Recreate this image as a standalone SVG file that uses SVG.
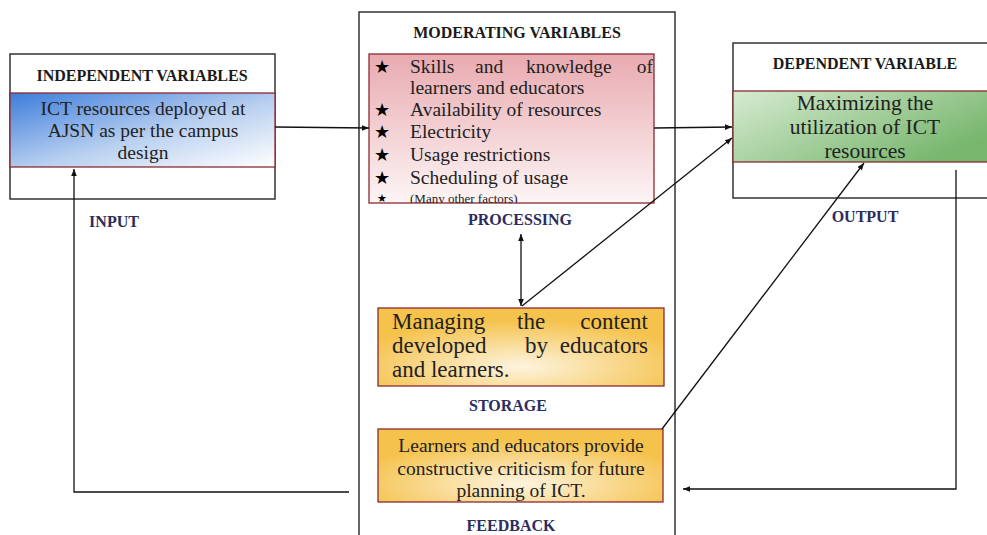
<svg xmlns="http://www.w3.org/2000/svg" width="987" height="535" viewBox="0 0 987 535">
<style>
.outer{fill:#fff;stroke:#333;stroke-width:1.5}
.band{stroke:#8b2a33;stroke-width:1.3}
.hdr{font-family:"Liberation Serif",serif;font-weight:bold;font-size:16px;fill:#1a1a1a;text-anchor:middle}
.lbl{font-family:"Liberation Serif",serif;font-weight:bold;font-size:16px;fill:#2c2c5e;text-anchor:middle}
.t{font-family:"Liberation Serif",serif;fill:#222}
.star{font-family:"DejaVu Sans",sans-serif;fill:#000;text-anchor:middle}
.conn{fill:none;stroke:#111;stroke-width:1.3}
</style>
<defs>
<linearGradient id="gBlue" x1="0" y1="0" x2="1" y2="1">
<stop offset="0" stop-color="#3d7ddb"/>
<stop offset="0.55" stop-color="#b9d0f0"/>
<stop offset="1" stop-color="#ffffff"/>
</linearGradient>
<linearGradient id="gPink" x1="0" y1="0" x2="0" y2="1">
<stop offset="0" stop-color="#e8aab0"/>
<stop offset="1" stop-color="#fdf5f5"/>
</linearGradient>
<linearGradient id="gGreen" x1="0" y1="0" x2="1" y2="0.6">
<stop offset="0" stop-color="#d6ebd1"/>
<stop offset="1" stop-color="#78b66e"/>
</linearGradient>
<radialGradient id="gOrange" cx="0.5" cy="0.75" r="0.6">
<stop offset="0" stop-color="#fdf4df"/>
<stop offset="1" stop-color="#f5c24c"/>
</radialGradient>
<clipPath id="pinkClip"><rect x="369" y="54" width="285" height="149"/></clipPath>
<marker id="arr" viewBox="0 0 10 10" refX="10" refY="5" markerWidth="7" markerHeight="7" markerUnits="userSpaceOnUse" orient="auto-start-reverse">
<path d="M0,1 L10,5 L0,9 z" fill="#111"/>
</marker>
</defs>

<g id="moderating">
<path class="outer" d="M359,536 L359,12 L675,12 L675,536"/>
<text class="hdr" x="517" y="38">MODERATING VARIABLES</text>
</g>

<g id="independent">
<rect class="outer" x="10" y="54" width="265" height="145"/>
<text class="hdr" x="142" y="81">INDEPENDENT VARIABLES</text>
<rect class="band" x="10" y="93" width="265" height="74" fill="url(#gBlue)"/>
<text class="t" font-size="19.5" text-anchor="middle"><tspan x="143" y="115">ICT resources deployed at</tspan><tspan x="143" y="137">AJSN as per the campus</tspan><tspan x="143" y="159">design</tspan></text>
<text class="lbl" x="114" y="227">INPUT</text>
</g>

<g id="processing">
<rect class="band" x="369" y="54" width="285" height="149" fill="url(#gPink)"/>
<g class="star" font-size="18">
<text x="382" y="73">★</text>
<text x="382" y="116">★</text>
<text x="382" y="138">★</text>
<text x="382" y="161">★</text>
<text x="382" y="184">★</text>
<text x="382" y="202" font-size="11">★</text>
</g>
<g class="t" font-size="19.5">
<text x="410" y="73">Skills</text>
<text x="475" y="73">and</text>
<text x="526" y="73">knowledge</text>
<text x="653" y="73" text-anchor="end">of</text>
<text x="410" y="94">learners and educators</text>
<text x="410" y="116">Availability of resources</text>
<text x="410" y="138">Electricity</text>
<text x="410" y="161">Usage restrictions</text>
<text x="410" y="184">Scheduling of usage</text>
<text x="410" y="203" font-size="13" clip-path="url(#pinkClip)">(Many other factors)</text>
</g>
<text class="lbl" x="520" y="225">PROCESSING</text>
</g>

<g id="dependent">
<path class="outer" d="M988,43 L733,43 L733,198 L988,198"/>
<text class="hdr" x="865" y="69">DEPENDENT VARIABLE</text>
<rect class="band" x="733" y="91" width="260" height="71" fill="url(#gGreen)"/>
<text class="t" font-size="21.5" text-anchor="middle"><tspan x="865" y="110">Maximizing the</tspan><tspan x="865" y="134">utilization of ICT</tspan><tspan x="865" y="158">resources</tspan></text>
<text class="lbl" x="865" y="222">OUTPUT</text>
</g>

<g id="storage">
<rect class="band" x="378" y="308" width="286" height="78" fill="url(#gOrange)"/>
<g class="t" font-size="23">
<text x="392" y="329">Managing</text>
<text x="517" y="329">the</text>
<text x="648" y="329" text-anchor="end">content</text>
<text x="392" y="353">developed</text>
<text x="525" y="353">by</text>
<text x="648" y="353" text-anchor="end">educators</text>
<text x="392" y="377">and learners.</text>
</g>
<text class="lbl" x="508" y="411">STORAGE</text>
</g>

<g id="feedback">
<rect class="band" x="378" y="429" width="285" height="73" fill="url(#gOrange)"/>
<text class="t" font-size="19.5" text-anchor="middle"><tspan x="521" y="452">Learners and educators provide</tspan><tspan x="521" y="475">constructive criticism for future</tspan><tspan x="521" y="497">planning of ICT.</tspan></text>
<text class="lbl" x="511" y="531">FEEDBACK</text>
</g>

<g id="connectors">
<path class="conn" d="M275,127 L369,128" marker-end="url(#arr)"/>
<path class="conn" d="M654,128 L732,127" marker-end="url(#arr)"/>
<path class="conn" d="M521,234 L521,306" marker-start="url(#arr)" marker-end="url(#arr)"/>
<path class="conn" d="M522,306 L732,138" marker-end="url(#arr)"/>
<path class="conn" d="M662,429 L864,163" marker-end="url(#arr)"/>
<path class="conn" d="M349,492 L74,492 L74,169" marker-end="url(#arr)"/>
<path class="conn" d="M956,170 L956,489 L683,489" marker-end="url(#arr)"/>
</g>
</svg>
